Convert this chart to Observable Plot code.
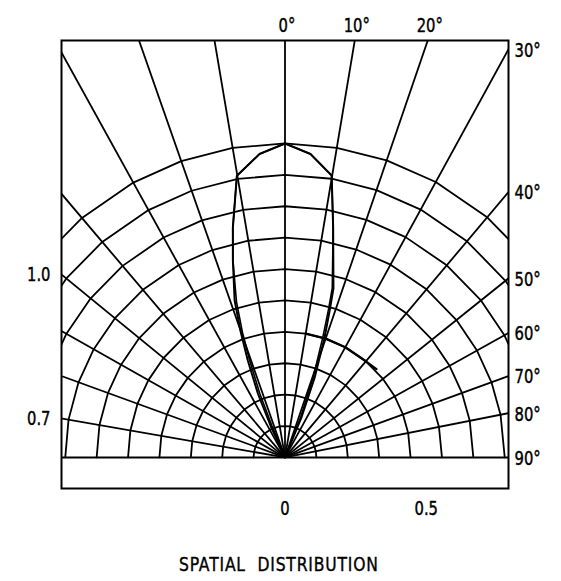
<!DOCTYPE html>
<html>
<head>
<meta charset="utf-8">
<script src="https://cdn.jsdelivr.net/npm/d3@7"></script>
<script src="https://cdn.jsdelivr.net/npm/@observablehq/plot@0.6"></script>
<style>
  html, body { margin: 0; padding: 0; background: #fff; }
  #chart { width: 561px; }
  #cap {
    width: 557px; text-align: center; margin-top: 14px; line-height: 20px;
    font-family: "DejaVu Sans", sans-serif;
    font-size: 19px; color: #000;
  }
  #cap span { display: inline-block; transform: scaleX(0.82); transform-origin: center; letter-spacing: 1px; -webkit-text-stroke: 0.4px #000; }
</style>
</head>
<body>
<div id="chart"></div>
<div id="cap"><span>SPATIAL&nbsp; DISTRIBUTION</span></div>
<script>
// Spoke angles (degrees from vertical) as drawn in the reference
const spokeAngles = [-80.1, -70, -60.5, -50.7, -40.3, -28.9, -19.3, -9.6, 0, 9.5, 18.9, 28.7, 40.1, 51.3, 60.9, 70, 78.8];
// Relative-intensity rings
const ringRadii = [0.1, 0.2, 0.3, 0.4, 0.5, 0.6, 0.7, 0.8, 0.9, 1.0];

// Radiation pattern, trace A (outer)
const beamAAngles = [-25, -24.5, -23, -21, -19.5, -17.8, -14.8, -12.8, -9.7, -4.8, 0, 4.8, 9.4, 11.8, 16, 16.9, 18.3, 20.4, 22.3, 24];
const beamAValues = [0, 0.11, 0.22, 0.33, 0.42, 0.525, 0.65, 0.75, 0.91, 0.97, 1.0, 0.97, 0.91, 0.75, 0.56, 0.49, 0.40, 0.27, 0.14, 0];
// Trace B (inner, nearly overlapping)
const beamBAngles = [-22, -22.5, -21.5, -20, -18.8, -17.3, -14.8, -12.8, -9.7, -4.8, 0, 4.8, 9.4, 11.8, 15.6, 16.4, 17.5, 19.4, 21.2, 22];
const beamBValues = [0, 0.11, 0.22, 0.33, 0.42, 0.52, 0.65, 0.75, 0.91, 0.97, 1.0, 0.97, 0.91, 0.75, 0.56, 0.49, 0.40, 0.27, 0.14, 0];
// Short side trace along the 0.4 ring
const sideAngles = [9.5, 18.9, 28.7, 40.1, 46];
const sideValues = [0.40, 0.40, 0.40, 0.40, 0.405];

// Labels
const topLabelAngles = [0, 9.5, 18.9];
const topLabelText = ["0°", "10°", "20°"];
const rightLabelAngles = [28.7, 40.1, 51.3, 60.9, 70, 78.8, 90];
const rightLabelText = ["30°", "40°", "50°", "60°", "70°", "80°", "90°"];
const leftLabelAngles = [-50.7, -80.1];
const leftLabelText = ["1.0", "0.7"];
const bottomTickValues = [0, 0.45];
const bottomTickText = ["0", "0.5"];

const X0 = -0.712, X1 = 0.712, Y0 = -0.099, Y1 = 1.328;
const rad = d => d * Math.PI / 180;
const polar = (a, r) => ({ x: r * Math.sin(rad(a)), y: r * Math.cos(rad(a)) });

const spokes = spokeAngles.map(a => ({ x1: 0, y1: 0, x2: 2 * Math.sin(rad(a)), y2: 2 * Math.cos(rad(a)) }));
const arcAngles = [-90, ...spokeAngles, 90];
const arcs = ringRadii.flatMap(r => arcAngles.map(a => ({ r, ...polar(a, r) })));
const beamA = beamAAngles.map((a, i) => polar(a, beamAValues[i]));
const beamB = beamBAngles.map((a, i) => polar(a, beamBValues[i]));
const side = sideAngles.map((a, i) => polar(a, sideValues[i]));

// where a spoke meets the frame
function edgeHit(a) {
  const s = Math.sin(rad(a)), c = Math.cos(rad(a));
  if (Math.abs(a) >= 89.9) return { x: a > 0 ? X1 : X0, y: 0 };
  const tTop = Y1 / c;
  const tSide = (a > 0 ? X1 : -X0) / Math.abs(s || 1e-9);
  const t = Math.min(tTop, tSide);
  return { x: t * s, y: t * c };
}
const topLabels = topLabelAngles.map((a, i) => ({ x: edgeHit(a).x, y: Y1, text: topLabelText[i] }));
const rightLabels = rightLabelAngles.map((a, i) => ({ x: X1, y: edgeHit(a).y, text: rightLabelText[i] }));
const leftLabels = leftLabelAngles.map((a, i) => ({ x: X0, y: edgeHit(a).y, text: leftLabelText[i] }));
const bottomLabels = bottomTickValues.map((v, i) => ({ x: v, y: Y0, text: bottomTickText[i] }));

const sw = 1.8;
const font = "'DejaVu Sans', sans-serif";
const txt = { fontSize: 20, fill: "#000", stroke: "#000", strokeWidth: 0.45 };

const chart = Plot.plot({
  width: 561,
  height: 540,
  marginLeft: 61,
  marginRight: 53,
  marginTop: 40,
  marginBottom: 52,
  x: { domain: [X0, X1], axis: null },
  y: { domain: [Y0, Y1], axis: null },
  style: { fontFamily: font, background: "#fff", color: "#000" },
  marks: [
    Plot.link(spokes, { x1: "x1", y1: "y1", x2: "x2", y2: "y2", stroke: "#000", strokeWidth: sw, clip: true }),
    Plot.line(arcs, { x: "x", y: "y", z: "r", stroke: "#000", strokeWidth: sw, curve: "linear", clip: true }),
    Plot.ruleY([0], { stroke: "#000", strokeWidth: 2 }),
    Plot.line(beamB, { x: "x", y: "y", stroke: "#000", strokeWidth: 1.6, curve: "linear" }),
    Plot.line(beamA, { x: "x", y: "y", stroke: "#000", strokeWidth: 2, curve: "linear" }),
    Plot.line(side, { x: "x", y: "y", stroke: "#000", strokeWidth: 2.4, curve: "linear" }),
    Plot.frame({ stroke: "#000", strokeWidth: 2 }),
    Plot.text(topLabels, { x: "x", y: "y", text: "text", dy: -15, dx: 2, textAnchor: "middle", ...txt }),
    Plot.text(rightLabels, { x: "x", y: "y", text: "text", dx: 6, dy: 1, textAnchor: "start", ...txt }),
    Plot.text(leftLabels, { x: "x", y: "y", text: "text", dx: -11, dy: 0, textAnchor: "end", ...txt }),
    Plot.text(bottomLabels, { x: "x", y: "y", text: "text", dy: 20, textAnchor: "middle", ...txt })
  ]
});
document.getElementById("chart").appendChild(chart);

// condense the label glyphs horizontally (narrow drafting lettering)
d3.select(chart).selectAll("text").each(function () {
  const L = this.getComputedTextLength();
  if (L > 0) {
    this.setAttribute("textLength", (L * 0.74).toFixed(1));
    this.setAttribute("lengthAdjust", "spacingAndGlyphs");
  }
});
</script>
</body>
</html>
